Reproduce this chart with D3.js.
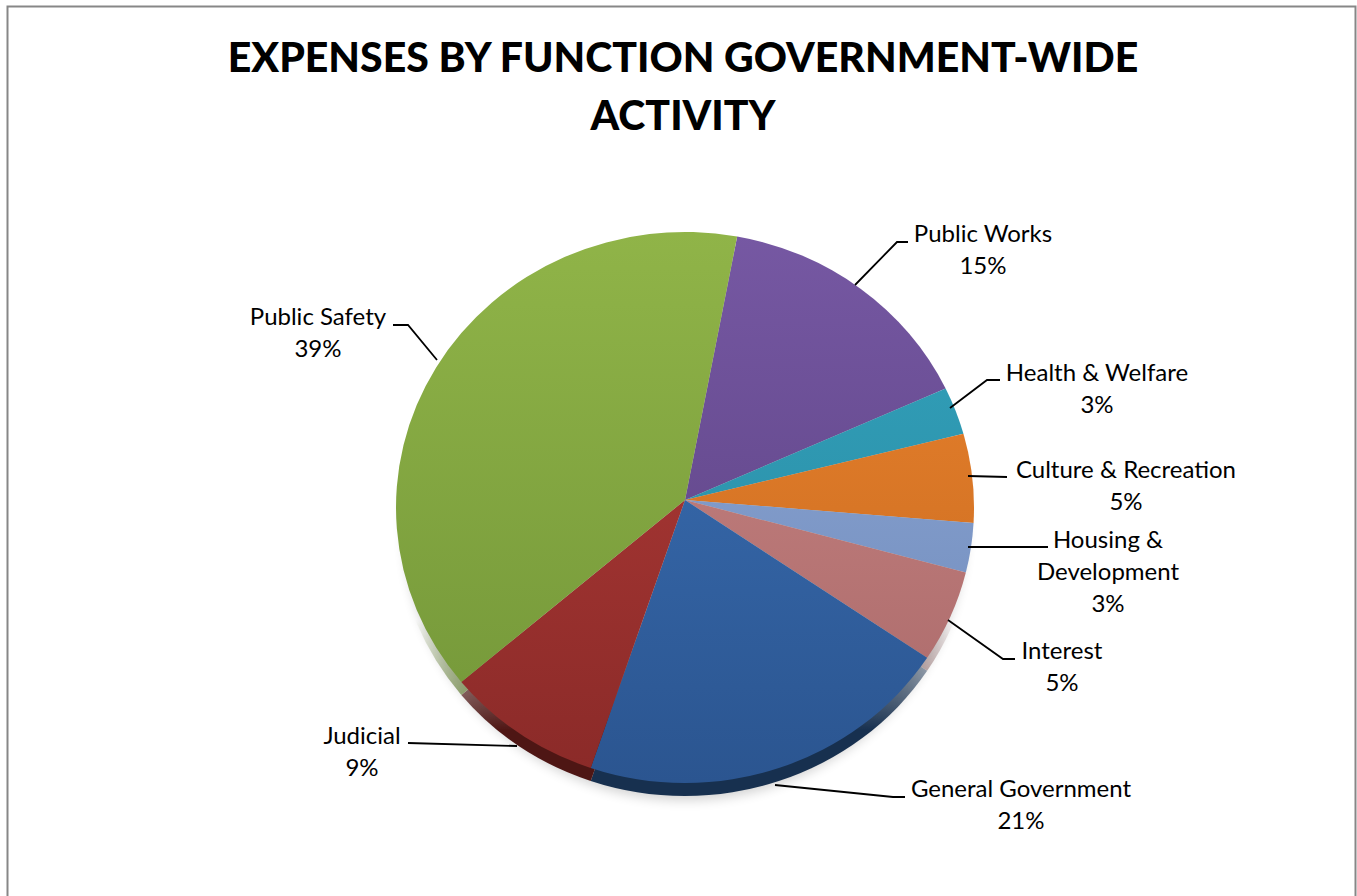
<!DOCTYPE html>
<html>
<head>
<meta charset="utf-8">
<script src="https://cdn.jsdelivr.net/npm/d3@7"></script>
<style>
  body { margin: 0; background: #fff; }
  svg { display: block; }
  text { font-family: Lato, "Open Sans", sans-serif; fill: #000; }
</style>
</head>
<body>
<svg id="chart" width="1357" height="896"></svg>
<script>

var categories = ["Public Works", "Health & Welfare", "Culture & Recreation", "Housing & Development",
                  "Interest", "General Government", "Judicial", "Public Safety"];
var shares = [15.0, 2.8, 5.2, 2.9, 5.4, 21.1, 8.8, 38.8];
var percentLabels = ["15%", "3%", "5%", "3%", "5%", "21%", "9%", "39%"];
var labelLines = [["Public Works"], ["Health & Welfare"], ["Culture & Recreation"], ["Housing &", "Development"],
                  ["Interest"], ["General Government"], ["Judicial"], ["Public Safety"]];
var lightColors = ["#7658a3", "#33a3bd", "#ec842f", "#92abd8", "#cc8786", "#3c72b8", "#b43c39", "#90b448"];
var darkColors  = ["#583f7e", "#28879f", "#c4681d", "#6c88b9", "#a96969", "#2b5590", "#8a2a28", "#729538"];
var sideColors  = ["#3d2b58", "#1c5e6e", "#7e4313", "#4a5e80", "#744848", "#17304f", "#4e1614", "#5f7a30"];

var svg = d3.select("#chart"),
    width = +svg.attr("width"),
    height = +svg.attr("height");

// frame
svg.append("rect")
    .attr("x", 7.5).attr("y", 6.5)
    .attr("width", 1348).attr("height", 900)
    .attr("fill", "none")
    .attr("stroke", "#878787")
    .attr("stroke-width", 2);

// title
var title = svg.append("text")
    .attr("text-anchor", "middle")
    .style("font-weight", "900")
    .style("font-size", "41px");
title.append("tspan").attr("x", 683).attr("y", 72).text("EXPENSES BY FUNCTION GOVERNMENT-WIDE");
title.append("tspan").attr("x", 683).attr("y", 130).text("ACTIVITY");

// pie geometry (slightly tilted ellipse)
var cx = 685, cy = 507.5, rx = 289, ry = 275.5,
    apex = [685, 500], depth = 13,
    startAngle = 10.4 * Math.PI / 180;

var pie = d3.pie().sort(null).value(function(d) { return d; })
    .startAngle(startAngle).endAngle(startAngle + 2 * Math.PI);
var arcs = pie(shares);

var color = d3.scaleOrdinal().domain(categories).range(lightColors);
var colorDark = d3.scaleOrdinal().domain(categories).range(darkColors);
var colorSide = d3.scaleOrdinal().domain(categories).range(sideColors);

function pt(a, dy) { return [cx + rx * Math.sin(a), cy + (dy || 0) - ry * Math.cos(a)]; }

function slicePath(d, dy) {
  var p0 = pt(d.startAngle, dy), p1 = pt(d.endAngle, dy),
      large = d.endAngle - d.startAngle > Math.PI ? 1 : 0;
  return "M" + apex[0] + "," + (apex[1] + (dy || 0)) +
         "L" + p0[0] + "," + p0[1] +
         "A" + rx + "," + ry + " 0 " + large + " 1 " + p1[0] + "," + p1[1] + "Z";
}

var defs = svg.append("defs");
defs.append("filter").attr("id", "blur")
    .attr("x", "-20%").attr("y", "-20%").attr("width", "140%").attr("height", "140%")
  .append("feGaussianBlur").attr("stdDeviation", 6);

// the rim fades in towards the lower part of the disc
var fade = defs.append("linearGradient").attr("id", "rimfade")
    .attr("gradientUnits", "userSpaceOnUse")
    .attr("x1", 0).attr("y1", 620).attr("x2", 0).attr("y2", 730);
fade.append("stop").attr("offset", "0%").attr("stop-color", "#000");
fade.append("stop").attr("offset", "100%").attr("stop-color", "#fff");
defs.append("mask").attr("id", "rimmask")
    .attr("maskUnits", "userSpaceOnUse")
    .attr("x", 0).attr("y", 0).attr("width", width).attr("height", height)
  .append("rect").attr("x", 0).attr("y", 0).attr("width", width).attr("height", height)
    .attr("fill", "url(#rimfade)");

arcs.forEach(function(d, i) {
  var g = defs.append("linearGradient")
      .attr("id", "grad" + i)
      .attr("gradientUnits", "userSpaceOnUse")
      .attr("x1", 0).attr("y1", cy - ry).attr("x2", 0).attr("y2", cy + ry);
  g.append("stop").attr("offset", "0%").attr("stop-color", color(categories[i]));
  g.append("stop").attr("offset", "100%").attr("stop-color", colorDark(categories[i]));
});

// soft shadow
svg.append("ellipse")
    .attr("cx", cx).attr("cy", cy + depth + 4)
    .attr("rx", rx - 8).attr("ry", ry)
    .attr("fill", "#000").attr("opacity", 0.18)
    .attr("filter", "url(#blur)");

// side of the disc
svg.append("g").attr("mask", "url(#rimmask)").selectAll("path")
    .data(arcs)
  .enter().append("path")
    .attr("d", function(d) { return slicePath(d, depth); })
    .attr("fill", function(d, i) { return colorSide(categories[i]); });

// top face
svg.append("g").selectAll("path")
    .data(arcs)
  .enter().append("path")
    .attr("d", function(d) { return slicePath(d, 0); })
    .attr("fill", function(d, i) { return "url(#grad" + i + ")"; });

// labels: anchor point (text centre), leader polyline
var labelPos = [[983, 242], [1097, 381], [1126, 478], [1108, 548], [1062, 659], [1021, 797], [362, 744], [318, 325]];
var leaders = [
  [[855, 285], [897, 242], [908, 242]],
  [[950, 408], [987, 380], [1000, 380]],
  [[968, 476], [1007, 477]],
  [[968, 547], [1048, 547]],
  [[948, 620], [1003, 659], [1015, 659]],
  [[775, 785], [893, 797], [905, 797]],
  [[517, 746], [408, 743]],
  [[437, 360], [408, 325], [393, 325]]
];

var line = d3.line();
svg.append("g").selectAll("path")
    .data(leaders)
  .enter().append("path")
    .attr("d", line)
    .attr("fill", "none")
    .attr("stroke", "#000")
    .attr("stroke-width", 1.8);

var labels = svg.append("g").selectAll("text")
    .data(categories)
  .enter().append("text")
    .attr("text-anchor", "middle")
    .style("font-size", "24px");

labels.each(function(c, i) {
  var t = d3.select(this),
      rows = labelLines[i].concat([percentLabels[i]]);
  rows.forEach(function(r, k) {
    t.append("tspan")
      .attr("x", labelPos[i][0])
      .attr("y", labelPos[i][1] + k * 32)
      .text(r);
  });
});

</script>
</body>
</html>
